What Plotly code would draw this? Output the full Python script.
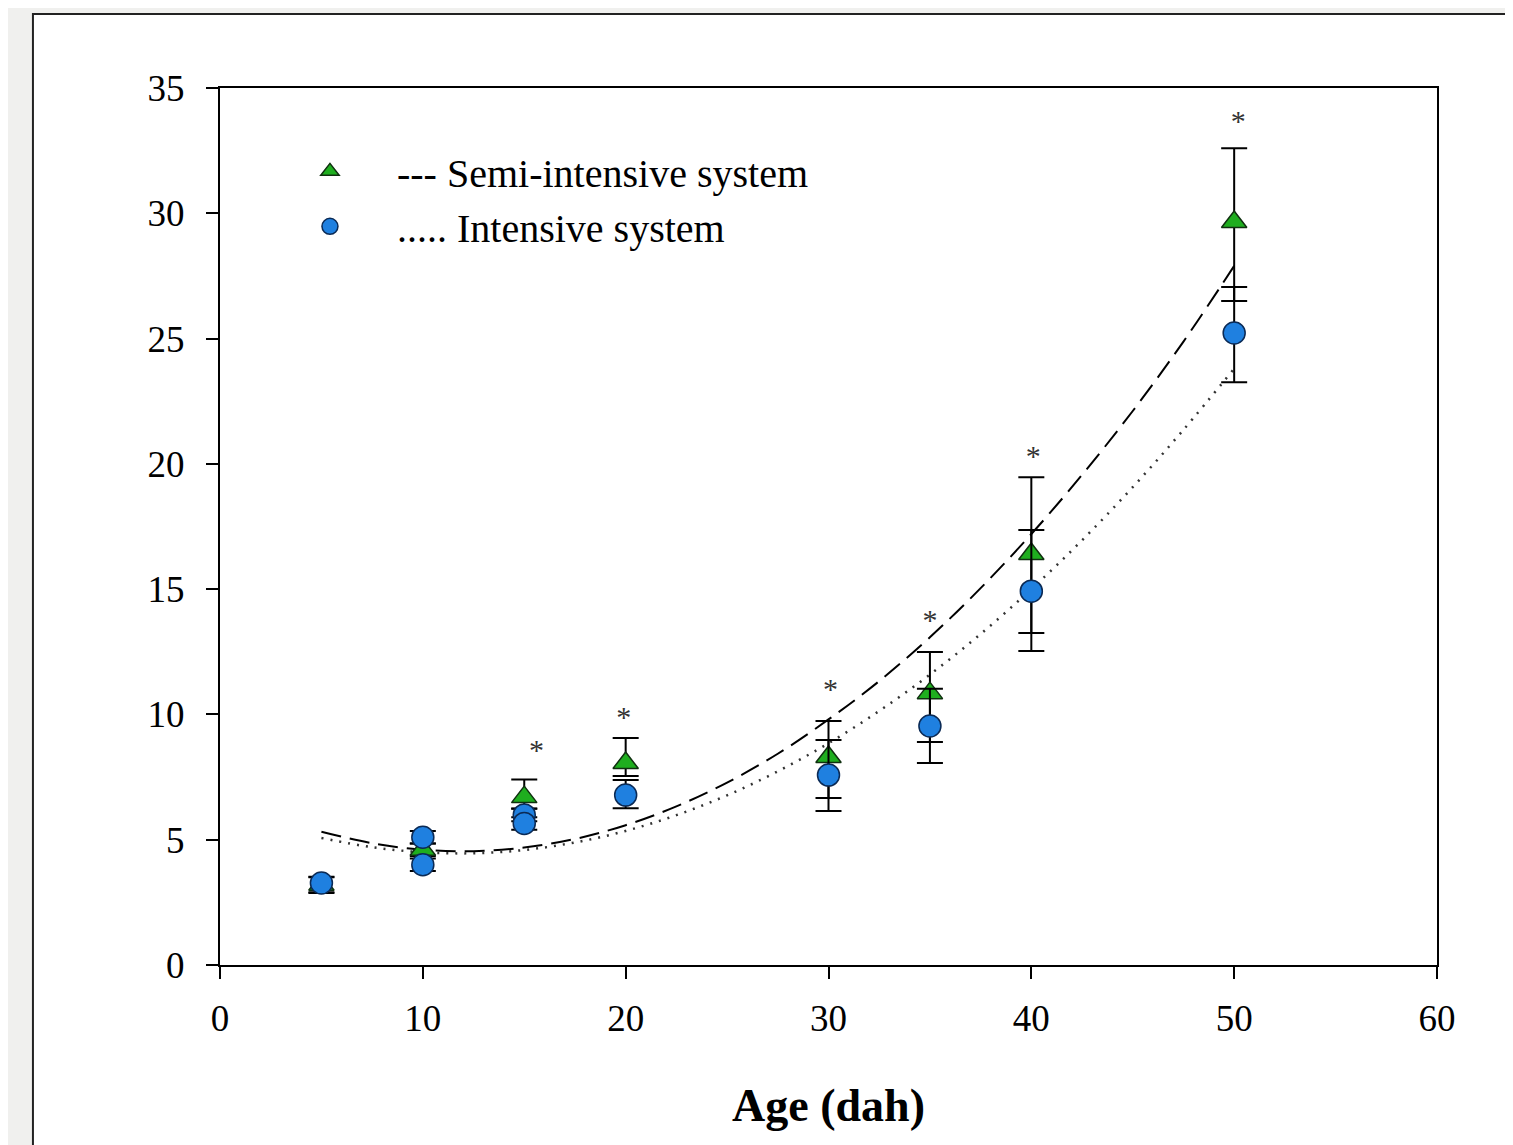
import plotly.graph_objects as go

# Data
age_semi = [5, 10, 15, 20, 30, 35, 40, 50]
semi_mean = [3.2, 4.6, 6.7, 8.06, 8.3, 10.85, 16.4, 29.65]
semi_err_plus = [0.3, 0.25, 0.7, 1.0, 1.44, 1.64, 3.07, 2.95]
semi_err_minus = [0.3, 0.25, 0.45, 0.52, 1.64, 1.95, 3.15, 3.15]

age_int = [5, 10, 10, 15, 15, 20, 30, 35, 40, 50]
int_mean = [3.27, 5.1, 4.0, 5.99, 5.65, 6.78, 7.58, 9.54, 14.92, 25.22]
int_err_plus = [0.25, 0.25, 0.25, 0.25, 0.25, 0.6, 1.4, 1.48, 2.44, 1.84]
int_err_minus = [0.4, 0.25, 0.25, 0.25, 0.25, 0.52, 1.43, 1.48, 2.39, 1.96]

fit_age = [5, 7.5, 10, 12.5, 15, 17.5, 20, 22.5, 25, 27.5, 30, 32.5, 35, 37.5, 40, 42.5, 45, 47.5, 50]
fit_semi = [5.32, 4.86, 4.60, 4.54, 4.69, 5.03, 5.58, 6.33, 7.28, 8.43, 9.80, 11.33, 13.08, 15.04, 17.2, 19.56, 22.11, 24.88, 27.9]
fit_int = [5.07, 4.70, 4.50, 4.46, 4.59, 4.89, 5.35, 5.98, 6.77, 7.73, 8.85, 10.14, 11.59, 13.21, 15.0, 16.95, 19.07, 21.36, 23.8]

star_x = [15.6, 19.9, 30.1, 35.0, 40.1, 50.2]
star_y = [8.5, 9.8, 10.9, 13.65, 20.2, 33.6]

x_ticks = [0, 10, 20, 30, 40, 50, 60]
y_ticks = [0, 5, 10, 15, 20, 25, 30, 35]

SERIF = "Liberation Serif, Times New Roman, serif"

fig = go.Figure()

fig.add_trace(go.Scatter(x=fit_age, y=fit_semi, mode="lines",
                         line=dict(color="black", width=2, dash="20px,9px", shape="spline"),
                         showlegend=False, hoverinfo="skip"))
fig.add_trace(go.Scatter(x=fit_age, y=fit_int, mode="lines",
                         line=dict(color="#333333", width=2.5, dash="2px,7px", shape="spline"),
                         showlegend=False, hoverinfo="skip"))

fig.add_trace(go.Scatter(
    x=age_semi, y=semi_mean, mode="markers", name="--- Semi-intensive system",
    marker=dict(symbol="triangle-up", size=22, color="#1fae1f", line=dict(color="#103010", width=1.5)),
    error_y=dict(type="data", symmetric=False, array=semi_err_plus, arrayminus=semi_err_minus,
                 color="black", thickness=2, width=13),
))
fig.add_trace(go.Scatter(
    x=age_int, y=int_mean, mode="markers", name="..... Intensive system",
    marker=dict(symbol="circle", size=22, color="#1f80e0", line=dict(color="#0b2a55", width=1.5)),
    error_y=dict(type="data", symmetric=False, array=int_err_plus, arrayminus=int_err_minus,
                 color="black", thickness=2, width=13),
))

fig.add_trace(go.Scatter(x=star_x, y=star_y, mode="text", text=["*"] * len(star_x),
                         textfont=dict(family=SERIF, size=30, color="#333333"),
                         showlegend=False, hoverinfo="skip"))

# white panel behind the chart
fig.add_shape(type="rect", xref="paper", yref="paper", x0=-0.1537, x1=1.09, y0=-0.23, y1=1.0844,
              fillcolor="white", line=dict(color="#222222", width=2), layer="below")

axis_common = dict(showgrid=False, zeroline=False, showline=True, linecolor="black", linewidth=2,
                   mirror=True, ticks="outside", ticklen=12, tickwidth=2, tickcolor="black",
                   tickfont=dict(family=SERIF, size=37, color="black"))

fig.update_layout(
    width=1513, height=1145,
    margin=dict(l=212, r=84, t=80, b=188),
    paper_bgcolor="#f0f0ee",
    plot_bgcolor="white",
    xaxis=dict(range=[0, 60], tickvals=x_ticks, ticktext=[str(v) for v in x_ticks],
               ticklabelstandoff=8,
               title=dict(text="<b>Age (dah)</b>", font=dict(family=SERIF, size=46, color="black"), standoff=50),
               **axis_common),
    yaxis=dict(range=[0, 35], tickvals=y_ticks, ticktext=[str(v) for v in y_ticks],
               ticklabelstandoff=14, **axis_common),
    legend=dict(x=0.0353, y=0.942, xanchor="left", yanchor="top", bgcolor="rgba(0,0,0,0)",
                font=dict(family=SERIF, size=40, color="black"), itemwidth=124, tracegroupgap=0),
    showlegend=True,
)

fig.write_html("out.html")
